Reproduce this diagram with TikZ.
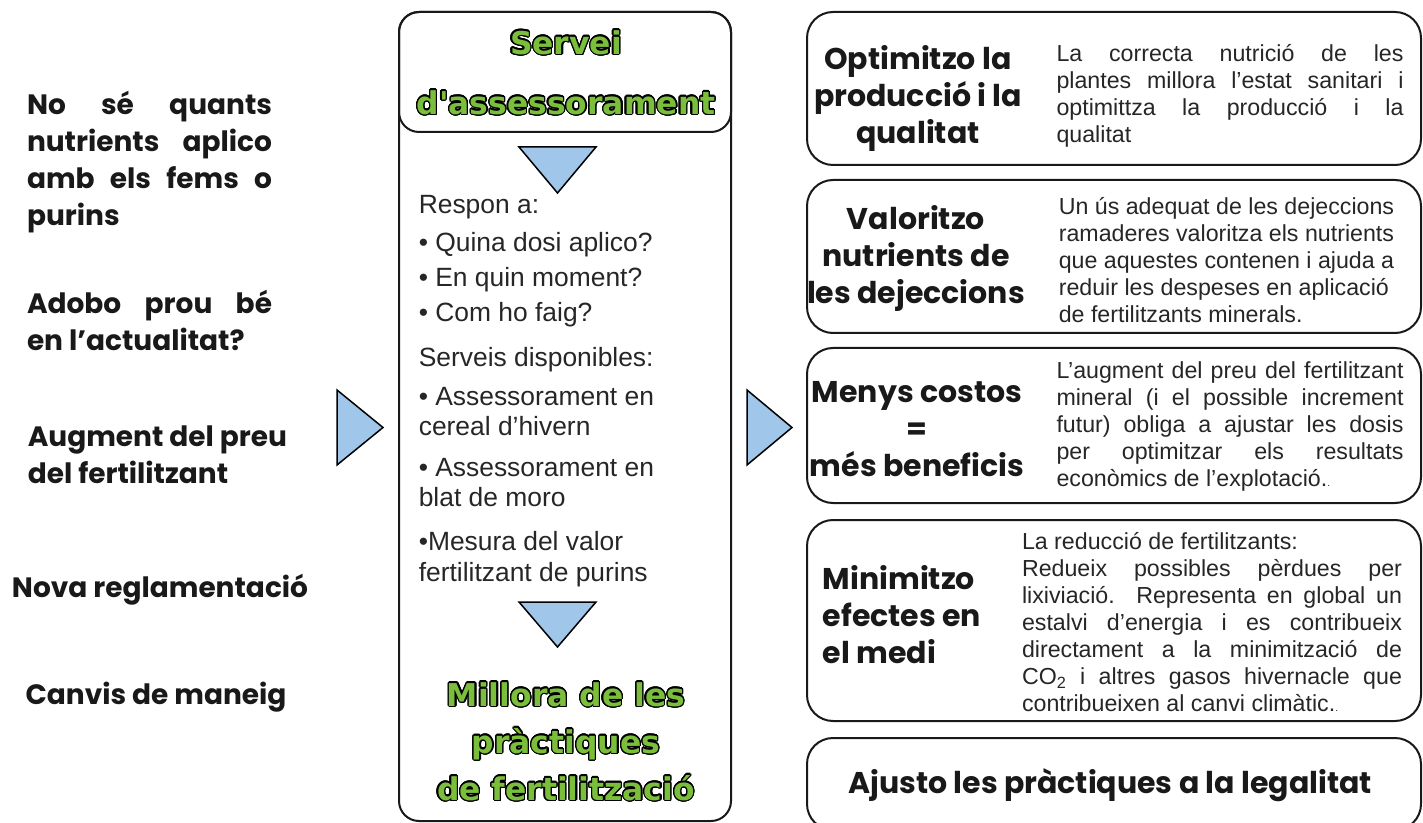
\documentclass[tikz,border=0pt]{standalone}
\usepackage{fontspec}
\setmainfont{Liberation Sans}
\newfontfamily\comicfont{Poppins}
\newfontfamily\blackfont{DejaVu Sans}
\usepackage[copies]{contour}
\contourlength{0.6pt}
\contournumber{24}
\usetikzlibrary{positioning}
\definecolor{arrowblue}{RGB}{160,199,234}
\definecolor{headgreen}{RGB}{122,190,60}
\definecolor{bodygray}{RGB}{38,38,38}
\newcommand{\greentxt}[1]{\contour{black}{#1}}

\begin{document}
\begin{tikzpicture}[x=0.5pt,y=-0.5pt,thick,
  frame/.style={draw=black!90,line width=1pt,rounded corners=10pt},
  card/.style={draw=black!90,line width=1pt,rounded corners=13pt},
  tri/.style={draw=black,fill=arrowblue,line width=0.75pt,line join=miter},
  head/.style={font=\blackfont\bfseries\fontsize{15.7}{23.5}\selectfont,text=headgreen,inner sep=0pt,align=center},
  issue/.style={font=\comicfont\bfseries\fontsize{14}{18.5}\selectfont,text=black!90,inner sep=0pt},
  topic/.style={font=\comicfont\bfseries\fontsize{15}{18.5}\selectfont,text=black!90,inner sep=0pt,align=center},
  item/.style={font=\fontsize{13.2}{12}\selectfont,text=bodygray,anchor=base west,inner sep=0pt},
  detail/.style={font=\fontsize{11.6}{13.5}\selectfont,text=bodygray,inner sep=0pt}]
\useasboundingbox (0,0) rectangle (1423,823);
\clip (0,0) rectangle (1423,823);

% left column
\node[issue,text width=122.5pt,align=justify] (nutri) at (149.5,162.5)
  {No sé quants\linebreak nutrients aplico\linebreak amb els fems o\linebreak purins};
\node[issue,text width=122.5pt,align=justify] (adobo) at (149.5,320)
  {Adobo prou bé\linebreak en l’actualitat?};
\node[issue,align=left,anchor=west] (preu) at (27,455)
  {Augment del preu\\del fertilitzant};
\node[issue] (regla) at (160,590) {Nova reglamentació};
\node[issue] (maneig) at (156,697) {Canvis de maneig};
\draw[tri] (337,390) -- (383,427.5) -- (337,465) -- cycle;

% middle column
\draw[frame] (399,12) rectangle (731,821);
\draw[frame] (399,12) rectangle (731,132);
\node[head] (servei) at (566,43) {\greentxt{Servei}};
\node[head] (assess) at (566,103) {\greentxt{d\textquotesingle assessorament}};
\draw[tri] (519,147) -- (596,147) -- (557.5,193) -- cycle;
\node[item] (respon) at (418,214) {Respon a:};
\node[item] (dosi) at (418,252) {• Quina dosi aplico?};
\node[item] (moment) at (418,287) {• En quin moment?};
\node[item] (faig) at (418,322) {• Com ho faig?};
\node[item] (serveis) at (418,366) {Serveis disponibles:};
\node[item] (cereal) at (418,406) {• Assessorament en};
\node[item] (cereal2) at (418,435) {cereal d’hivern};
\node[item] (blat) at (418,476) {• Assessorament en};
\node[item] (blat2) at (418,506) {blat de moro};
\node[item] (purins) at (418,550) {•Mesura del valor};
\node[item] (purins2) at (418,581) {fertilitzant de purins};
\draw[tri] (519,602) -- (596,602) -- (557.5,647) -- cycle;
\node[head] (millora) at (566,742)
  {\greentxt{Millora de les}\\\greentxt{pràctiques}\\\greentxt{de fertilització}};
\draw[tri] (747,390) -- (792,427.5) -- (747,465) -- cycle;

% right column
\draw[card] (807,12) rectangle (1421,165);
\draw[card] (807,180) rectangle (1421,333);
\draw[card] (807,348) rectangle (1421,503);
\draw[card] (807,520) rectangle (1421,721);
\draw[card] (807,738) rectangle (1421,830);

\node[topic] (optim) at (918,98) {Optimitzo la\\producció i la\\qualitat};
\node[detail,text width=173.5pt,align=justify] (optimtxt) at (1230,96)
  {La correcta nutrició de les\linebreak plantes millora l’estat sanitari i\linebreak optimittza la producció i la\linebreak qualitat};

\node[topic] (valor) at (916,258) {Valoritzo\\nutrients de\\les dejeccions};
\node[detail,align=left,anchor=west] (valortxt) at (1058,260)
  {Un ús adequat de les dejeccions\\ramaderes valoritza els nutrients\\que aquestes contenen i ajuda a\\reduir les despeses en aplicació\\de fertilitzants minerals.};

\node[topic] (costos) at (917,429) {Menys costos\\=\\més beneficis};
\node[detail,text width=173.5pt,align=justify] (costostxt) at (1230,426.5)
  {L’augment del preu del fertilitzant\linebreak mineral (i el possible increment\linebreak futur) obliga a ajustar les dosis\linebreak per optimitzar els resultats\linebreak econòmics de l’explotació.{\tiny .}};

\node[topic,align=left,anchor=west] (medi) at (822,615) {Minimitzo\\efectes en\\el medi};
\node[detail,text width=190pt,align=justify] (meditxt) at (1212,622.5)
  {La reducció de fertilitzants:\newline Redueix possibles pèrdues per\linebreak lixiviació. Representa en global un\linebreak estalvi d’energia i es contribueix\linebreak directament a la minimització de\linebreak CO\textsubscript{2} i altres gasos hivernacle que\linebreak contribueixen al canvi climàtic.{\tiny .}};

\node[topic] (legal) at (1110,785) {Ajusto les pràctiques a la legalitat};
\end{tikzpicture}
\end{document}
